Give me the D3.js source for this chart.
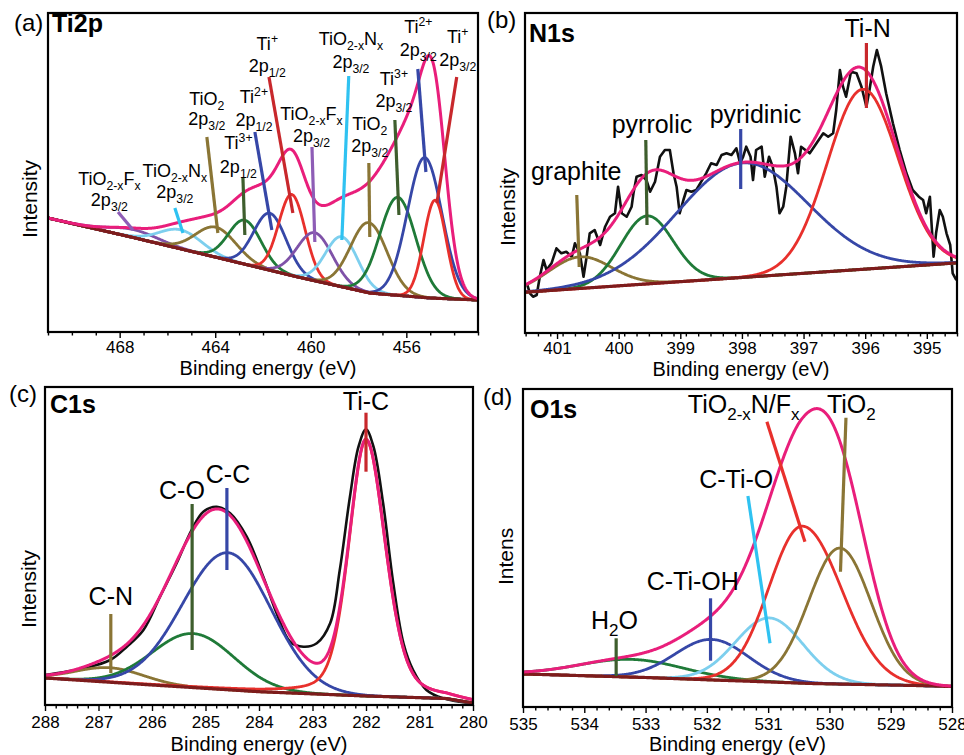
<!DOCTYPE html>
<html><head><meta charset="utf-8">
<script src="https://cdn.jsdelivr.net/npm/d3@7"></script>
<style>
body{margin:0;background:#fff}
svg{display:block}
text{font-family:"Liberation Sans",Arial,Helvetica,sans-serif;fill:#000}
</style>
</head><body>
<svg id="chart" width="964" height="755"></svg>
<script>
// ===================== DATA =====================
// (a) Ti2p
const ti2pDomain = [471, 453];
const ti2pMajorTicks = [468, 464, 460, 456];
const ti2pBackgroundE = [471.0, 467.53, 464.01, 460.54, 457.53, 455.02, 453.0];
const ti2pBackgroundI = [114, 95, 75, 55, 39, 34, 32];
const ti2pNames   = ["TiO2-xFx 2p3/2 (a)","TiO2-xNx 2p3/2 (a)","TiO2 2p3/2 (a)","Ti3+ 2p1/2","Ti2+ 2p1/2","Ti+ 2p1/2","TiO2-xFx 2p3/2","TiO2-xNx 2p3/2","TiO2 2p3/2","Ti3+ 2p3/2","Ti2+ 2p3/2","Ti+ 2p3/2"];
const ti2pCenters = [467.4, 465.44, 463.97, 462.76, 461.71, 460.79, 459.83, 458.70, 457.57, 456.36, 455.23, 454.80];
const ti2pHeights = [8, 19, 30, 44, 57, 81, 48, 50, 70, 98, 140, 98];
const ti2pFwhm    = [2.4, 2.1, 2.0, 1.6, 1.6, 1.3, 1.75, 1.6, 1.8, 1.77, 1.7, 1.1];

// (b) N1s
const n1sDomain = [401.52, 394.51];
const n1sMajorTicks = [401, 400, 399, 398, 397, 396, 395];
const n1sBackgroundE = [401.52, 394.51];
const n1sBackgroundI = [40.8, 70.1];
const n1sNames   = ["graphite", "pyrrolic", "pyridinic", "Ti-N"];
const n1sCenters = [400.63, 399.54, 397.99, 396.04];
const n1sHeights = [31.6, 68, 114.5, 180];
const n1sFwhm    = [1.2, 1.0, 2.5, 1.35];
const n1sDataE = [401.49,401.44,401.39,401.33,401.28,401.22,401.17,401.09,401.01,400.93,400.85,400.76,400.71,400.63,400.57,400.52,400.47,400.39,400.30,400.22,400.14,400.06,400.01,399.95,399.87,399.79,399.76,399.71,399.63,399.55,399.49,399.41,399.33,399.25,399.17,399.11,399.06,399.01,398.95,398.90,398.82,398.74,398.66,398.58,398.50,398.41,398.33,398.25,398.17,398.09,398.03,397.98,397.93,397.86,397.82,397.77,397.68,397.63,397.56,397.50,397.44,397.39,397.33,397.28,397.21,397.14,397.09,397.04,396.97,396.90,396.79,396.68,396.60,396.52,396.47,396.41,396.36,396.31,396.23,396.14,396.06,395.98,395.93,395.87,395.81,395.74,395.66,395.55,395.44,395.33,395.23,395.13,395.06,395.01,394.95,394.89,394.85,394.79,394.74,394.68,394.62,394.58,394.52];
const n1sDataI = [49.7,39.7,36.3,38,56.3,73,63,69.7,84.7,79.7,81.3,76.3,89.7,79.7,56.3,76.3,99.7,103,88,106.3,116.3,119.7,146.3,119.7,116.3,126.3,139.7,156.3,158,153,141.3,151.3,176.3,183,183,159.7,146.3,119.7,133,143,141.3,143,151.3,159.7,169.7,168,178,179.7,178,184.7,169.7,176.3,186.3,176.3,153,183,186.3,156.3,176.3,166.3,146.3,119.7,126.3,146.3,196.3,179.7,159.7,186.3,183,179.7,189.7,199.7,196.3,199.7,223,263,246.3,236.3,261.3,259.7,246.3,226.3,243,266.3,283,266.3,239.7,209.7,183,159.7,143,136.3,133,119.7,136.3,76.3,99.7,123,116.3,99.7,88,59.7,53];

// (c) C1s
const c1sDomain = [288, 280];
const c1sMajorTicks = [288, 287, 286, 285, 284, 283, 282, 281, 280];
const c1sBackgroundE = [288, 286, 284, 282, 280.5, 280];
const c1sBackgroundI = [27, 20, 13.3, 9, 6.5, 2];
const c1sNames    = ["C-N", "C-O", "C-C", "Ti-C"];
const c1sCenters  = [286.79, 285.23, 284.58, 282.0];
const c1sHeights  = [14.5, 54, 137, 256];
const c1sFwhmHigh = [1.5, 1.8, 2.0, 0.75];
const c1sFwhmLow  = [1.5, 1.8, 1.9, 0.85];
const c1sLorentz  = [0, 0, 0, 0.3];
const c1sDataE = [288.0,287.28,286.78,286.47,286.16,285.85,285.54,285.26,285.04,284.79,284.54,284.23,283.92,283.67,283.42,283.17,282.92,282.67,282.49,282.30,282.14,282.0,281.86,281.68,281.49,281.30,281.12,280.87,280.56,280.0];
const c1sDataI = [30,36.7,45,58.3,75,108.3,141.7,175,193.3,198.3,191.7,168.3,128.3,91.7,63.3,58.3,61.7,81.7,135,208.3,258.3,275.7,258.3,201.7,121.7,61.7,35,15,6.7,1.7];

// (d) O1s
const o1sDomain = [535, 528];
const o1sMajorTicks = [535, 534, 533, 532, 531, 530, 529, 528];
const o1sBackgroundE = [535, 534.4, 533, 531.9, 531.1, 530.3, 528.6, 528];
const o1sBackgroundI = [33, 32, 29.5, 27, 25.3, 23.5, 21.5, 20.5];
const o1sNames    = ["H2O", "C-Ti-OH", "C-Ti-O", "TiO2-xN/Fx", "TiO2"];
const o1sCenters  = [533.23, 531.92, 530.98, 530.44, 529.83];
const o1sHeights  = [17.7, 40.5, 64, 157, 136];
const o1sFwhmHigh = [2.0, 1.41, 1.3, 1.28, 1.2];
const o1sFwhmLow  = [2.0, 1.41, 1.3, 1.5, 1.2];

// ===================== STYLE =====================
const COL = {
  pink:"#e91e7b", red:"#e8302c", redMark:"#c8282c", blue:"#3647a7", green:"#1f7a38",
  greenMark:"#3e5e2d", olive:"#8a7535", lblue:"#7dcfee", lblueMark:"#2fc2f1",
  purple:"#7f52a8", purpleMark:"#8e5db6", bg:"#7d1c1c", black:"#111111"
};

const svg = d3.select("#chart");

function peakValue(E, c, h, wHigh, wLow, eta) {
  const w = E >= c ? wHigh : wLow;
  const u = 4 * (E - c) * (E - c) / (w * w);
  return h * ((1 - eta) * Math.exp(-Math.LN2 * u) + eta / (1 + u));
}

function rich(textSel, str, size) {
  const re = /([_^])\{([^}]*)\}|([^_^]+)/g;
  let m, cur = 0;
  while ((m = re.exec(str)) !== null) {
    let target, fs, content;
    if (m[3] !== undefined) { target = 0; fs = size; content = m[3]; }
    else { target = m[1] === "_" ? 0.28 * size : -0.4 * size; fs = 0.68 * size; content = m[2]; }
    textSel.append("tspan").attr("dy", target - cur).attr("font-size", fs).text(content);
    cur = target;
  }
}

function drawPanel(L, D) {
  const g = svg.append("g");
  const x = d3.scaleLinear().domain(D.domain).range([L.left, L.right]);
  const y = d3.scaleLinear().domain([0, D.intensityMax]).range([L.bottom, L.top]);
  const bg = d3.scaleLinear().domain(D.bgE).range(D.bgI);
  const lo = Math.min(D.domain[0], D.domain[1]), hi = Math.max(D.domain[0], D.domain[1]);
  const n = Math.round((hi - lo) / D.step);
  const grid = d3.range(0, n + 1).map(i => lo + i * D.step);
  const line = d3.line().x(d => x(d[0])).y(d => y(d[1]));

  const clipId = "clip" + L.id;
  svg.append("clipPath").attr("id", clipId).append("rect")
    .attr("x", L.left).attr("y", L.top).attr("width", L.right - L.left).attr("height", L.bottom - L.top);
  const plot = g.append("g").attr("clip-path", `url(#${clipId})`);

  const comps = D.centers.map((c, i) => grid.map(E =>
    [E, bg(E) + peakValue(E, c, D.heights[i], D.wHigh[i], D.wLow[i], D.eta[i])]));
  const env = grid.map(E => {
    let s = bg(E);
    D.centers.forEach((c, i) => { s += peakValue(E, c, D.heights[i], D.wHigh[i], D.wLow[i], D.eta[i]); });
    return [E, s];
  });

  if (D.dataE) {
    const pts = D.dataE.map((e, i) => [e, D.dataI[i]]);
    const dl = d3.line().x(d => x(d[0])).y(d => y(d[1])).curve(D.smoothData ? d3.curveCatmullRom : d3.curveLinear);
    plot.append("path").attr("d", dl(pts))
      .attr("fill", "none").attr("stroke", COL.black).attr("stroke-width", 2.6).attr("stroke-linejoin", "round");
  }
  comps.forEach((pts, i) => {
    plot.append("path").attr("d", line(pts)).attr("fill", "none")
      .attr("stroke", D.colors[i]).attr("stroke-width", 2.8);
  });
  plot.append("path").attr("d", line(grid.map(E => [E, bg(E)]))).attr("fill", "none")
    .attr("stroke", COL.bg).attr("stroke-width", 3.2);
  plot.append("path").attr("d", line(env)).attr("fill", "none")
    .attr("stroke", COL.pink).attr("stroke-width", 3);

  // markers
  L.markers.forEach(mk => {
    g.append("line").attr("x1", x(mk[0])).attr("y1", y(mk[1])).attr("x2", x(mk[2])).attr("y2", y(mk[3]))
      .attr("stroke", mk[4]).attr("stroke-width", 3.2);
  });
  // labels
  L.labels.forEach(lb => {
    lb.lines.forEach((ln, k) => {
      const t = g.append("text").attr("x", x(lb.E)).attr("y", y(lb.v[k]))
        .attr("text-anchor", lb.anchor || "middle").attr("font-size", L.labelSize);
      rich(t, ln, L.labelSize);
    });
  });

  // axes
  const minor = d3.range(0, Math.round((hi - lo) / L.minorStep) + 1).map(i => +(lo + i * L.minorStep).toFixed(3))
    .filter(v => !D.major.includes(v));
  const ax1 = g.append("g").attr("transform", `translate(0,${L.bottom})`)
    .call(d3.axisBottom(x).tickValues(minor).tickSize(3.5).tickFormat(""));
  const ax2 = g.append("g").attr("transform", `translate(0,${L.bottom})`)
    .call(d3.axisBottom(x).tickValues(D.major).tickSize(6).tickPadding(L.tickPad).tickFormat(d3.format("d")));
  [ax1, ax2].forEach(a => {
    a.select(".domain").remove();
    a.selectAll("line").attr("stroke", "#000").attr("stroke-width", 1.4);
    a.selectAll("text").attr("font-size", 17).attr("fill", "#000")
      .attr("font-family", '"Liberation Sans",Arial,Helvetica,sans-serif');
  });

  // frame
  g.append("rect").attr("x", L.left).attr("y", L.top).attr("width", L.right - L.left).attr("height", L.bottom - L.top)
    .attr("fill", "none").attr("stroke", "#000").attr("stroke-width", 2.2);

  // texts
  g.append("text").attr("x", (L.left + L.right) / 2 + L.xTitleShift).attr("y", L.xTitleY)
    .attr("text-anchor", "middle").attr("font-size", 20).text("Binding energy (eV)");
  g.append("text").attr("transform", `translate(${L.yLabelX},${L.yLabelY}) rotate(-90)`)
    .attr("text-anchor", L.yLabelAnchor).attr("font-size", 21).text(L.yLabel);
  g.append("text").attr("x", L.letterX).attr("y", L.letterY).attr("font-size", 24).text(L.letter);
  g.append("text").attr("x", L.titleX).attr("y", L.titleY).attr("font-size", 25).attr("font-weight", "bold").text(L.title);
}

// ===================== PANELS =====================
const ti2pColors = [COL.purple, COL.lblue, COL.olive, COL.green, COL.blue, COL.red, COL.purple, COL.lblue, COL.olive, COL.green, COL.blue, COL.red];
drawPanel({
  id: "a", left: 48, right: 478, top: 13, bottom: 332, minorStep: 1, labelSize: 18, xTitleShift: 5,
  tickPad: 3, xTitleY: 375,
  yLabel: "Intensity", yLabelX: 37, yLabelY: 199, yLabelAnchor: "middle",
  letter: "(a)", letterX: 14, letterY: 31, title: "Ti2p", titleX: 52, titleY: 32,
  markers: [
    [468.07,120,467.44,102,COL.purpleMark],[465.69,124,465.35,99,COL.lblueMark],[464.35,195,463.89,99,COL.olive],
    [462.84,154,462.76,97,COL.greenMark],[462.34,200,461.63,102,COL.blue],[461.75,255,460.75,119,COL.redMark],
    [459.95,185,459.83,90,COL.purpleMark],[458.41,256,458.70,92,COL.lblueMark],[457.57,169,457.53,95,COL.olive],
    [456.48,212,456.31,117,COL.greenMark],[455.52,263,455.18,160,COL.blue],[453.89,255,454.72,129,COL.redMark]
  ],
  labels: [
    {lines:["TiO_{2-x}F_{x}","2p_{3/2}"], E:468.43, v:[147,126]},
    {lines:["TiO_{2-x}N_{x}","2p_{3/2}"], E:465.69, v:[155,134]},
    {lines:["TiO_{2}","2p_{3/2}"], E:464.35, v:[227,207]},
    {lines:["Ti^{3+}","2p_{1/2}"], E:463.03, v:[183,159]},
    {lines:["Ti^{2+}","2p_{1/2}"], E:462.38, v:[229,206]},
    {lines:["Ti^{+}","2p_{1/2}"], E:461.82, v:[282,260]},
    {lines:["TiO_{2-x}F_{x}","2p_{3/2}"], E:459.97, v:[212,190]},
    {lines:["TiO_{2-x}N_{x}","2p_{3/2}"], E:458.32, v:[287,264]},
    {lines:["TiO_{2}","2p_{3/2}"], E:457.53, v:[202,180]},
    {lines:["Ti^{3+}","2p_{3/2}"], E:456.52, v:[247,225]},
    {lines:["Ti^{2+}","2p_{3/2}"], E:455.50, v:[299,276]},
    {lines:["Ti^{+}","2p_{3/2}"], E:453.85, v:[289,266]}
  ]
}, {
  domain: ti2pDomain, major: ti2pMajorTicks, intensityMax: 319, step: 0.02,
  bgE: ti2pBackgroundE, bgI: ti2pBackgroundI, centers: ti2pCenters, heights: ti2pHeights,
  wHigh: ti2pFwhm, wLow: ti2pFwhm, eta: ti2pCenters.map(() => 0), colors: ti2pColors
});

drawPanel({
  id: "b", left: 525, right: 957, top: 13, bottom: 333, minorStep: 0.2, labelSize: 25, xTitleShift: 0,
  tickPad: 3, xTitleY: 376,
  yLabel: "Intensity", yLabelX: 515, yLabelY: 207, yLabelAnchor: "middle",
  letter: "(b)", letterX: 487, letterY: 28, title: "N1s", titleX: 529, titleY: 42,
  markers: [
    [395.98,290,395.98,225,COL.redMark],[398.02,204,398.02,144,COL.blue],
    [399.56,193,399.54,108,COL.greenMark],[400.68,138,400.64,66,COL.olive]
  ],
  labels: [
    {lines:["Ti-N"], E:395.96, v:[296]},
    {lines:["pyridinic"], E:397.78, v:[210]},
    {lines:["pyrrolic"], E:399.46, v:[200]},
    {lines:["graphite"], E:400.69, v:[153]}
  ]
}, {
  domain: n1sDomain, major: n1sMajorTicks, intensityMax: 320, step: 0.01,
  bgE: n1sBackgroundE, bgI: n1sBackgroundI, centers: n1sCenters, heights: n1sHeights,
  wHigh: n1sFwhm, wLow: n1sFwhm, eta: n1sCenters.map(() => 0),
  colors: [COL.olive, COL.green, COL.blue, COL.red], dataE: n1sDataE, dataI: n1sDataI
});

drawPanel({
  id: "c", left: 45, right: 473, top: 387, bottom: 705, minorStep: 0.2, labelSize: 25, xTitleShift: 0,
  tickPad: 5, xTitleY: 751,
  yLabel: "Intensity", yLabelX: 36, yLabelY: 589, yLabelAnchor: "middle",
  letter: "(c)", letterX: 9, letterY: 402, title: "C1s", titleX: 50, titleY: 413,
  markers: [
    [282.0,292.3,282.0,233.3,COL.redMark],[284.6,217,284.6,135,COL.blue],
    [285.25,201,285.25,55,COL.greenMark],[286.77,91,286.77,32,COL.olive]
  ],
  labels: [
    {lines:["Ti-C"], E:282.0, v:[295]},
    {lines:["C-C"], E:284.58, v:[222]},
    {lines:["C-O"], E:285.44, v:[206]},
    {lines:["C-N"], E:286.77, v:[100]}
  ]
}, {
  domain: c1sDomain, major: c1sMajorTicks, intensityMax: 318, step: 0.01,
  bgE: c1sBackgroundE, bgI: c1sBackgroundI, centers: c1sCenters, heights: c1sHeights,
  wHigh: c1sFwhmHigh, wLow: c1sFwhmLow, eta: c1sLorentz,
  colors: [COL.olive, COL.green, COL.blue, COL.red], dataE: c1sDataE, dataI: c1sDataI, smoothData: true
});

drawPanel({
  id: "d", left: 523, right: 952, top: 389, bottom: 707, minorStep: 0.2, labelSize: 25, xTitleShift: 0,
  tickPad: 5, xTitleY: 751,
  yLabel: "Intens", yLabelX: 513, yLabelY: 585, yLabelAnchor: "start",
  letter: "(d)", letterX: 483, letterY: 405, title: "O1s", titleX: 530, titleY: 418,
  markers: [
    [529.73,289.3,529.82,135.3,COL.olive],[531.02,285.3,530.40,165.3,COL.red],
    [531.33,211,530.97,63.7,COL.lblueMark],[531.94,108.7,531.94,46.3,COL.blue],
    [533.48,68.7,533.48,31,COL.greenMark]
  ],
  labels: [
    {lines:["TiO_{2-x}N/F_{x}"], E:532.31, v:[294.3], anchor:"start"},
    {lines:["TiO_{2}"], E:530.04, v:[294.3], anchor:"start"},
    {lines:["C-Ti-O"], E:531.52, v:[218.7]},
    {lines:["C-Ti-OH"], E:532.23, v:[117]},
    {lines:["H_{2}O"], E:533.89, v:[77.7], anchor:"start"}
  ]
}, {
  domain: o1sDomain, major: o1sMajorTicks, intensityMax: 318, step: 0.01,
  bgE: o1sBackgroundE, bgI: o1sBackgroundI, centers: o1sCenters, heights: o1sHeights,
  wHigh: o1sFwhmHigh, wLow: o1sFwhmLow, eta: o1sCenters.map(() => 0),
  colors: [COL.green, COL.blue, COL.lblue, COL.red, COL.olive]
});
</script>
</body></html>
